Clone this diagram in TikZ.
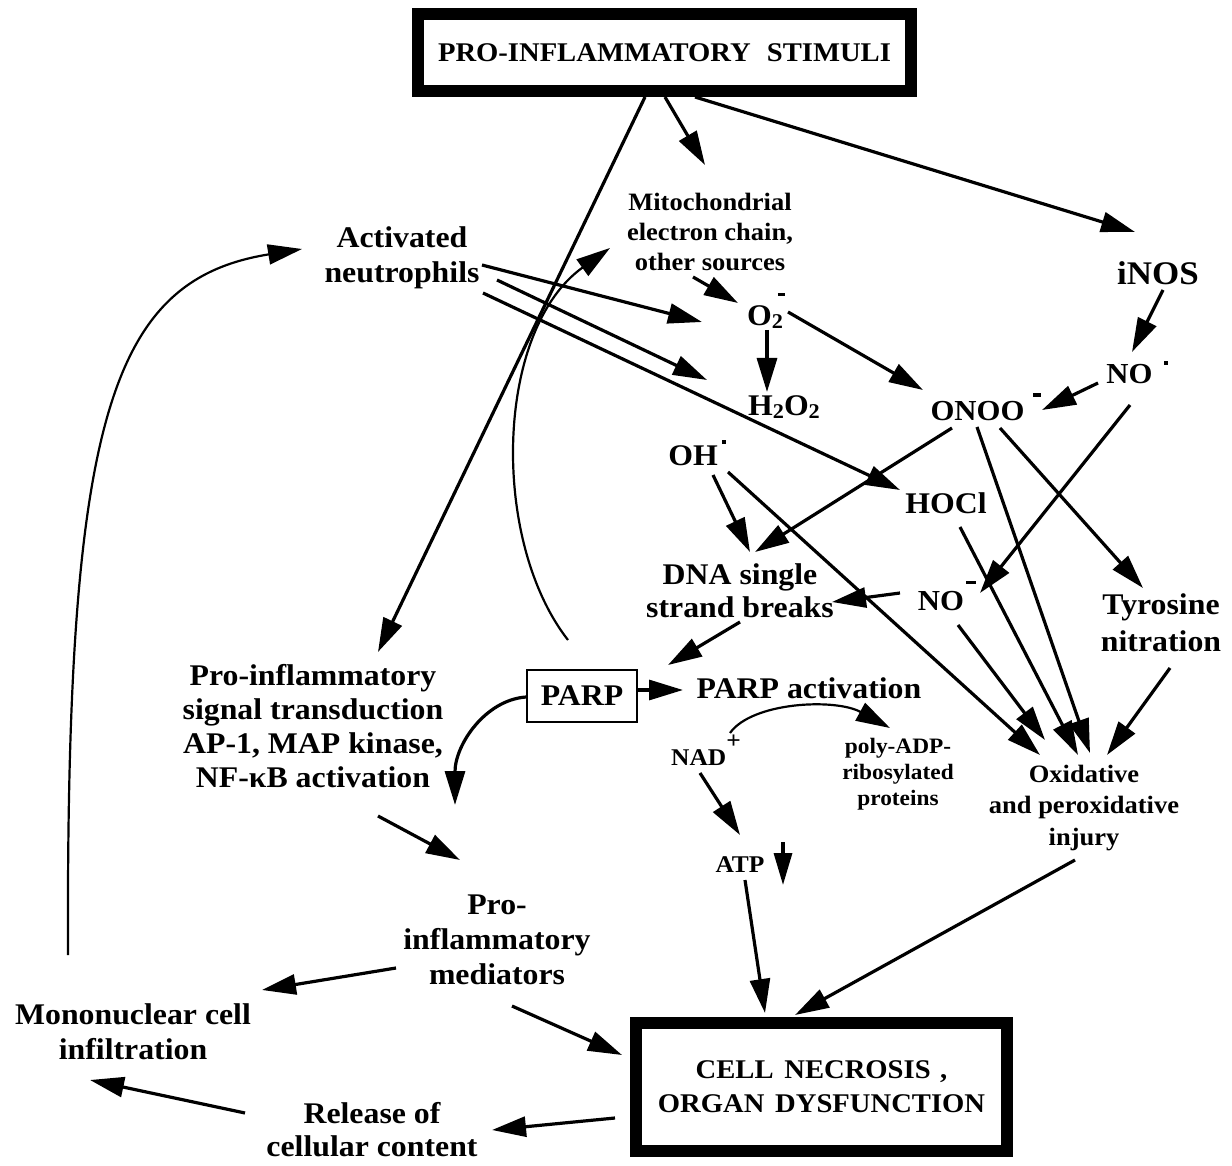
\documentclass[tikz,border=0pt]{standalone}
\usepackage{fontspec}
\setmainfont{Liberation Serif}[FakeStretch=1.06]
\usetikzlibrary{arrows.meta}
\newcommand{\mysub}[1]{\raisebox{-0.1em}{\fontsize{21}{21}\selectfont #1}}
\newcommand{\mysup}[2]{\raisebox{#1}{\fontsize{20}{20}\selectfont #2}}
\begin{document}
\begin{tikzpicture}[x=1pt,y=-1pt,
  arr/.style={line width=3.2pt,-{Triangle[length=34pt,width=20pt]}},
  carr/.style={line width=2.2pt,-{Triangle[length=34pt,width=20pt]}},
  lab/.style={font=\bfseries\fontsize{30}{35}\selectfont,inner sep=0pt,outer sep=0pt},
  mlab/.style={lab,align=center},
  bigbox/.style={draw,line width=12pt,inner sep=0pt,outer sep=0pt,align=center}
]
\useasboundingbox (0,0) rectangle (1232,1166);

% boxes
\node[bigbox,minimum width=493pt,minimum height=77pt,font=\bfseries\fontsize{27}{27}\selectfont] (pro) at (664.5,52.5) {PRO-INFLAMMATORY\hspace{0.6em}STIMULI};
\node[bigbox,minimum width=371pt,minimum height=128pt,font=\bfseries\fontsize{27}{34}\selectfont] (cell) at (821.5,1087) {CELL\hspace{0.4em}NECROSIS\hspace{0.35em},\\ORGAN\hspace{0.4em}DYSFUNCTION};
\node[lab,draw,line width=2.5pt,minimum width=110pt,minimum height=52pt] (parp) at (582,696) {PARP};

% multi-line labels
\node[mlab] (act) at (402,258) {Activated\\neutrophils};
\node[mlab,font=\bfseries\fontsize{25}{30}\selectfont] (mito) at (710,232) {Mitochondrial\\electron chain,\\other sources};
\node[mlab,font=\bfseries\fontsize{30}{33}\selectfont] (dna) at (740,591) {DNA single\\strand breaks};
\node[mlab,font=\bfseries\fontsize{30}{37}\selectfont] (tyr) at (1161,623) {Tyrosine\\nitration};
\node[mlab,font=\bfseries\fontsize{25}{31.5}\selectfont] (oxi) at (1084,808) {Oxidative\\and peroxidative\\injury};
\node[mlab,font=\bfseries\fontsize{22}{26}\selectfont] (poly) at (898,774) {poly-ADP-\\ribosylated\\proteins};
\node[mlab,font=\bfseries\fontsize{30}{34}\selectfont] (sig) at (313,726) {Pro-inflammatory\\signal transduction\\AP-1, MAP kinase,\\NF-κB activation};
\node[mlab] (med) at (497,940) {Pro-\\inflammatory\\mediators};
\node[mlab] (mono) at (133,1032) {Mononuclear cell\\infiltration};
\node[mlab,font=\bfseries\fontsize{30}{33}\selectfont] (rel) at (372,1130) {Release of\\cellular content};

% single-line labels (placed at baseline)
\node[lab,anchor=base,font=\bfseries\fontsize{33}{35}\selectfont] (inos) at (1158,285) {iNOS};
\node[lab,anchor=base] (o2) at (766,326) {O\rlap{\mysub{2}}\kern6pt\rule[30pt]{7pt}{3pt}};
\node[lab,anchor=base] (h2o2) at (784,415) {H\mysub{2}O\mysub{2}};
\node[lab,anchor=base,font=\bfseries\fontsize{29}{35}\selectfont] (onoo) at (986,420) {ONOO\kern9pt\rule[23pt]{8pt}{3.5pt}};
\node[lab,anchor=base,font=\bfseries\fontsize{29}{35}\selectfont] (no1) at (1137,383) {NO\kern11pt\rule[18pt]{4pt}{4pt}};
\node[lab,anchor=base] (oh) at (697,465) {OH\kern4pt\rule[21pt]{4pt}{4pt}};
\node[lab,anchor=base] (hocl) at (946,513) {HOCl};
\node[lab,anchor=base,font=\bfseries\fontsize{29}{35}\selectfont] (no2) at (947,610) {NO\kern2pt\rule[26pt]{10pt}{3.5pt}};
\node[lab,anchor=base] (parpact) at (809,698) {PARP activation};
\node[lab,anchor=base,font=\bfseries\fontsize{24}{30}\selectfont] (nad) at (706,765) {NAD\mysup{0.7em}{\fontsize{24}{24}\selectfont +}};
\node[lab,anchor=base,font=\bfseries\fontsize{24}{30}\selectfont] (atp) at (740,872) {ATP};

% connectors from stimuli
\draw[arr] ([shift={(-19.5,44.5)}]pro.center) -- ([shift={(65,-74)}]sig.center);
\draw[arr] ([shift={(0.5,44.5)}]pro.center) -- ([shift={(-5,-67)}]mito.center);
\draw[arr] ([shift={(30.5,44.5)}]pro.center) -- ([shift={(-23,-53)}]inos.base);

% neutrophils
\draw[arr] ([shift={(80,7)}]act.center) -- ([shift={(-64,-4)}]o2.base);
\draw[arr] ([shift={(95,22)}]act.center) -- ([shift={(-77,-35)}]h2o2.base);
\draw[arr] ([shift={(81,35)}]act.center) -- ([shift={(-46,-23)}]hocl.base);

% superoxide and peroxynitrite chemistry
\draw[arr] ([shift={(-17,45)}]mito.center) -- ([shift={(-28,-23)}]o2.base);
\draw[arr] ([shift={(1,4)}]o2.base) -- ([shift={(-17,-23)}]h2o2.base);
\draw[arr] ([shift={(22,-14)}]o2.base) -- ([shift={(-63,-30)}]onoo.base);
\draw[arr] ([shift={(5,5)}]inos.base) -- ([shift={(-5,-31)}]no1.base);
\draw[arr] ([shift={(-39,0)}]no1.base) -- ([shift={(56,-10)}]onoo.base);
\draw[arr] ([shift={(-7,22)}]no1.base) -- ([shift={(33,-17)}]no2.base);
\draw[arr] ([shift={(-34,8)}]onoo.base) -- ([shift={(15,-39)}]dna.center);
\draw[arr] ([shift={(-9,7)}]onoo.base) -- ([shift={(6,-55)}]oxi.center);
\draw[arr] ([shift={(14,8)}]onoo.base) -- ([shift={(-18,-35)}]tyr.center);
\draw[arr] ([shift={(16,10)}]oh.base) -- ([shift={(10,-39)}]dna.center);
\draw[arr] ([shift={(31,7)}]oh.base) -- ([shift={(-44,-53)}]oxi.center);
\draw[arr] ([shift={(14,14)}]hocl.base) -- ([shift={(-6,-53)}]oxi.center);
\draw[arr] ([shift={(-47,-17)}]no2.base) -- ([shift={(92,11)}]dna.center);
\draw[arr] ([shift={(11,15)}]no2.base) -- ([shift={(-39,-68)}]oxi.center);
\draw[arr] ([shift={(9,45)}]tyr.center) -- ([shift={(23,-53)}]oxi.center);

% PARP
\draw[arr] ([shift={(0,31)}]dna.center) -- ([shift={(86,-31)}]parp.center);
\draw[arr] ([shift={(56,-6)}]parp.center) -- ([shift={(-126,-8)}]parpact.base);
\draw[arr] ([shift={(-56,1)}]parp.center) .. controls (485,700) and (455,745) .. ([shift={(142,79)}]sig.center);
\draw[carr] ([shift={(-14,-56)}]parp.center) .. controls (490,540) and (495,330) .. ([shift={(-100,16)}]mito.center);
\draw[carr] ([shift={(24,-32)}]nad.base) .. controls (752,702) and (835,698) .. ([shift={(-8,-46)}]poly.center);
\draw[arr] ([shift={(-6,8)}]nad.base) -- ([shift={(0,-37)}]atp.base);
\coordinate (atpdA) at (783,842);
\coordinate (atpdB) at (783,885);
\draw[line width=3.2pt,-{Triangle[length=32pt,width=18pt]}] (atpdA) -- (atpdB);

% towards cell necrosis
\draw[arr] ([shift={(5,8)}]atp.base) -- ([shift={(-56.5,-74)}]cell.center);
\draw[arr] ([shift={(-9,52)}]oxi.center) -- ([shift={(-26.5,-72)}]cell.center);
\draw[arr] ([shift={(65,90)}]sig.center) -- ([shift={(-37,-80)}]med.center);
\draw[arr] ([shift={(-101,28)}]med.center) -- ([shift={(129,-42)}]mono.center);
\draw[arr] ([shift={(15,66)}]med.center) -- ([shift={(-199.5,-32)}]cell.center);
\draw[arr] ([shift={(-206.5,31)}]cell.center) -- ([shift={(120,0)}]rel.center);
\draw[arr] ([shift={(-127,-17)}]rel.center) -- ([shift={(-43,48)}]mono.center);
\draw[carr] ([shift={(-65,-77)}]mono.center) .. controls (66,420) and (110,280) .. ([shift={(-100,-9)}]act.center);
\end{tikzpicture}
\end{document}
